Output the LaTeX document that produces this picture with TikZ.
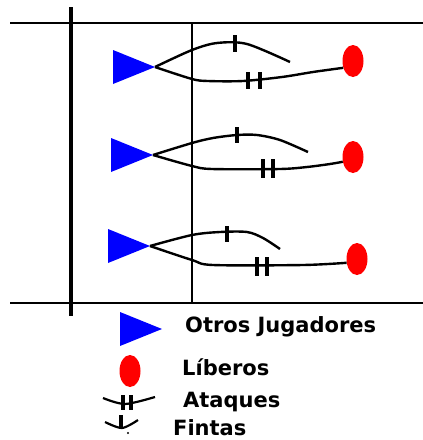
\documentclass[tikz,border=0pt]{standalone}
\usepackage{fontspec}
\newfontfamily\legfont{DejaVu Sans}
\usetikzlibrary{shapes.geometric}
\tikzset{
  player/.style={isosceles triangle, isosceles triangle stretches, shape border rotate=0,
    fill=blue, draw=none, inner sep=0pt, outer sep=0pt, minimum width=34pt, minimum height=42pt, anchor=apex},
  libero/.style={ellipse, fill=red, draw=none, inner sep=0pt, minimum width=21pt, minimum height=32pt},
  frame/.style={line width=1.4pt},
  path/.style={line width=2.4pt, line join=round},
  ticka/.style={line width=3.2pt},
  label/.style={anchor=base west, inner sep=0pt, font=\legfont\bfseries\fontsize{21}{21}\selectfont}
}
\begin{document}
\begin{tikzpicture}[x=1pt,y=-1pt]
\useasboundingbox (0,0) rectangle (423,440);
% frame
\coordinate (tl) at (10,23); \coordinate (tr) at (423,23);
\coordinate (bl) at (10,303); \coordinate (br) at (423,303);
\coordinate (wt) at (71,7); \coordinate (wb) at (71,316);
\coordinate (mt) at (192,23); \coordinate (mb) at (192,303);
\draw[frame] (tl) -- (tr);
\draw[frame] (bl) -- (br);
\draw[line width=4.5pt] (wt) -- (wb);
\draw[line width=1.2pt] (mt) -- (mb);

% row 1
\node[player] (p1) at (155,67) {};
\node[libero] (e1) at (353,61) {};
\coordinate (f1) at (290,62);
\draw[path] plot[smooth, tension=0.5] coordinates {(p1.apex) (192,50) (217,43) (247,44) (f1)};
\draw[path] plot[smooth, tension=0.5] coordinates {(p1.apex) (192,79) (208,81) (243,81) (282,77) (313,72) (e1.215)};
\draw[ticka] (235,35) -- (235,52);
\draw[ticka] (248,72) -- (248,89);
\draw[ticka] (260,72) -- (260,89);

% row 2
\node[player] (p2) at (153,155) {};
\node[libero] (e2) at (353,157) {};
\coordinate (f2) at (308,152);
\draw[path] plot[smooth, tension=0.5] coordinates {(p2.apex) (192,143) (213,138) (237,135) (257,135) (280,140) (f2)};
\draw[path] plot[smooth, tension=0.5] coordinates {(p2.apex) (192,166) (212,169) (280,169) (307,167) (330,164) (e2.205)};
\draw[ticka] (237,127) -- (237,143);
\draw[ticka] (263,159) -- (263,178);
\draw[ticka] (273,159) -- (273,178);

% row 3
\node[player] (p3) at (150,246) {};
\node[libero] (e3) at (357,259) {};
\coordinate (f3) at (280,249);
\draw[path] plot[smooth, tension=0.5] coordinates {(p3.apex) (192,235) (220,232) (247,232) (263,238) (f3)};
\draw[path] plot[smooth, tension=0.5] coordinates {(p3.apex) (192,260) (213,265) (303,265) (e3.200)};
\draw[ticka] (227,226) -- (227,242);
\draw[ticka] (257,257) -- (257,276);
\draw[ticka] (267,257) -- (267,276);

% legend
\node[player] (lp) at (162,329) {};
\node[libero] (le) at (130,371) {};
\coordinate (la1) at (103,398); \coordinate (la2) at (125,404); \coordinate (la3) at (155,397);
\draw[path, line width=2.2pt] plot[smooth, tension=0.5] coordinates {(la1) (la2) (la3)};
\draw[ticka] (123,395) -- (123,410);
\draw[ticka] (131,395) -- (131,410);
\coordinate (lf1) at (105,422); \coordinate (lf2) at (122,428); \coordinate (lf3) at (138,420);
\draw[path, line width=2.2pt] plot[smooth, tension=0.5] coordinates {(lf1) (lf2) (lf3)};
\draw[ticka] (121,415) -- (121,428);
\fill (128,433) circle (1.2pt);

\node[label] (t1) at (185,332) {Otros Jugadores};
\node[label] (t2) at (182,375) {Líberos};
\node[label] (t3) at (183,407) {Ataques};
\node[label] (t4) at (173,435) {Fintas};
\end{tikzpicture}
\end{document}
